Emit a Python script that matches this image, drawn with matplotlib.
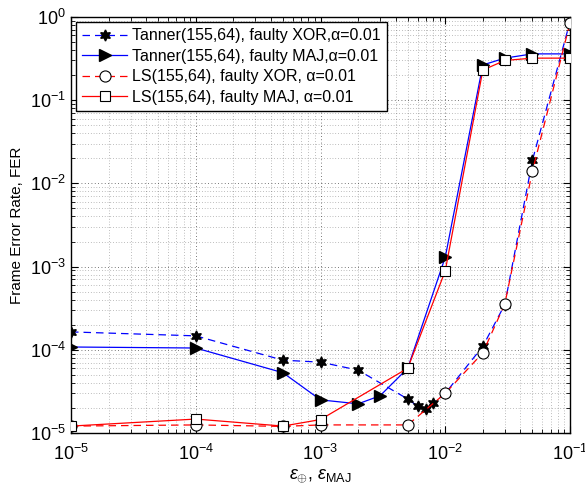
#!/usr/bin/env python3
import matplotlib
matplotlib.use("Agg")
import matplotlib.pyplot as plt
from matplotlib.ticker import LogLocator, NullFormatter

plt.rcParams["font.family"] = ["Liberation Sans", "DejaVu Sans"]
plt.rcParams["mathtext.fontset"] = "custom"
plt.rcParams["mathtext.rm"] = "Liberation Sans"
plt.rcParams["mathtext.it"] = "Liberation Sans:italic"

# Tanner(155,64), faulty XOR
tanner_xor_eps = [1e-5, 1e-4, 5e-4, 1e-3, 2e-3, 5e-3, 6e-3, 7e-3, 8e-3, 1e-2, 2e-2, 3e-2, 5e-2, 1e-1]
tanner_xor_fer = [1.64e-4, 1.47e-4, 7.5e-5, 7.1e-5, 5.7e-5, 2.56e-5, 2.1e-5, 1.95e-5, 2.3e-5,
                  3.0e-5, 1.1e-4, 3.5e-4, 1.9e-2, 0.88]

# Tanner(155,64), faulty MAJ
tanner_maj_eps = [1e-5, 1e-4, 5e-4, 1e-3, 2e-3, 3e-3, 5e-3, 1e-2, 2e-2, 3e-2, 5e-2, 1e-1]
tanner_maj_fer = [1.08e-4, 1.05e-4, 5.3e-5, 2.5e-5, 2.24e-5, 2.8e-5, 6.0e-5, 1.3e-3, 0.265, 0.32,
                  0.36, 0.36]

# LS(155,64), faulty XOR
ls_xor_eps = [1e-5, 1e-4, 5e-4, 1e-3, 5e-3, 1e-2, 2e-2, 3e-2, 5e-2, 1e-1]
ls_xor_fer = [1.21e-5, 1.25e-5, 1.2e-5, 1.25e-5, 1.25e-5, 3.0e-5, 9.2e-5, 3.55e-4, 1.41e-2, 0.85]

# LS(155,64), faulty MAJ
ls_maj_eps = [1e-5, 1e-4, 5e-4, 1e-3, 5e-3, 1e-2, 2e-2, 3e-2, 5e-2, 1e-1]
ls_maj_fer = [1.21e-5, 1.47e-5, 1.21e-5, 1.45e-5, 6.0e-5, 8.9e-4, 0.23, 0.30, 0.32, 0.32]

labels = [
    "Tanner(155,64), faulty XOR,α=0.01",
    "Tanner(155,64), faulty MAJ,α=0.01",
    "LS(155,64), faulty XOR, α=0.01",
    "LS(155,64), faulty MAJ, α=0.01",
]

fig = plt.figure(figsize=(5.85, 4.99), dpi=100)
ax = fig.add_axes([0.1214, 0.1323, 0.8530, 0.8337])

star = (6, 1, 0)
ax.plot(tanner_xor_eps, tanner_xor_fer, color="blue", linestyle=(0, (6, 4)), linewidth=0.9,
        marker=star, markersize=8, markerfacecolor="black", markeredgecolor="black",
        label=labels[0], zorder=3)
ax.plot(tanner_maj_eps, tanner_maj_fer, color="blue", linestyle="-", linewidth=0.9,
        marker=">", markersize=9, markerfacecolor="black", markeredgecolor="black",
        label=labels[1], zorder=3)
ax.plot(ls_xor_eps, ls_xor_fer, color="red", linestyle=(0, (6, 4)), linewidth=0.9,
        marker="o", markersize=8, markerfacecolor="white", markeredgecolor="black",
        markeredgewidth=0.8, label=labels[2], zorder=4)
ax.plot(ls_maj_eps, ls_maj_fer, color="red", linestyle="-", linewidth=0.9,
        marker="s", markersize=7, markerfacecolor="white", markeredgecolor="black",
        markeredgewidth=0.8, label=labels[3], zorder=4)

ax.set_xscale("log")
ax.set_yscale("log")
ax.set_xlim(1e-5, 1e-1)
ax.set_ylim(1e-5, 1e0)

ax.xaxis.set_minor_locator(LogLocator(base=10, subs=range(2, 10), numticks=20))
ax.yaxis.set_minor_locator(LogLocator(base=10, subs=range(2, 10), numticks=20))
ax.xaxis.set_minor_formatter(NullFormatter())
ax.yaxis.set_minor_formatter(NullFormatter())

ax.tick_params(which="both", direction="in", top=True, right=True, labelsize=13)
ax.tick_params(which="major", length=5, width=0.8)
ax.tick_params(which="minor", length=3, width=0.6)
ax.tick_params(axis="x", pad=8)

ax.grid(True, which="major", linestyle=(0, (1, 3)), color="black", linewidth=0.6, alpha=0.7)
ax.grid(True, which="minor", linestyle=(0, (1, 3)), color="black", linewidth=0.5, alpha=0.5)

for spine in ax.spines.values():
    spine.set_linewidth(1.0)

ax.set_ylabel("Frame Error Rate, FER", fontsize=11)
ax.set_xlabel(r"$\varepsilon_{\oplus}$, $\varepsilon_{\mathrm{MAJ}}$", fontsize=13, labelpad=2)

leg = ax.legend(loc="upper left", fontsize=11.5, fancybox=False, framealpha=1,
                edgecolor="black", handlelength=2.8, borderaxespad=0.3,
                labelspacing=0.35, handletextpad=0.3, borderpad=0.4)
leg.get_frame().set_linewidth(1.0)

fig.savefig("out.png", dpi=100)
